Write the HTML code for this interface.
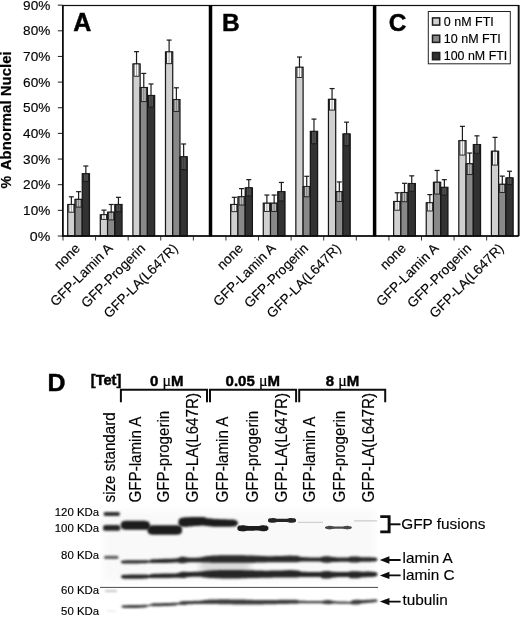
<!DOCTYPE html>
<html><head><meta charset="utf-8"><title>Figure</title>
<style>html,body{margin:0;padding:0;background:#fff}svg{display:block}text{font-family:"Liberation Sans",sans-serif;fill:#000;stroke:#000;stroke-width:0.15px}.b{font-weight:bold;stroke-width:0.45px}</style></head><body>
<svg width="520" height="629" viewBox="0 0 520 629">
<defs>
<filter id="b1" x="-10%" y="-100%" width="120%" height="300%"><feGaussianBlur stdDeviation="0.9"/></filter>
<filter id="b2" x="-10%" y="-100%" width="120%" height="300%"><feGaussianBlur stdDeviation="0.6"/></filter>
<filter id="b3" x="-10%" y="-20%" width="120%" height="140%"><feGaussianBlur stdDeviation="3"/></filter>
<filter id="soft"><feGaussianBlur stdDeviation="0.35"/></filter>
</defs>
<rect width="520" height="629" fill="#fff"/>
<g filter="url(#soft)">
<line x1="57.8" y1="236.00" x2="62.5" y2="236.00" stroke="#222" stroke-width="1"/>
<text x="50.3" y="240.60" font-size="12.9" text-anchor="end" textLength="20.5" lengthAdjust="spacingAndGlyphs">0%</text>
<line x1="57.8" y1="210.35" x2="62.5" y2="210.35" stroke="#222" stroke-width="1"/>
<text x="50.3" y="214.95" font-size="12.9" text-anchor="end" textLength="27.2" lengthAdjust="spacingAndGlyphs">10%</text>
<line x1="57.8" y1="184.70" x2="62.5" y2="184.70" stroke="#222" stroke-width="1"/>
<text x="50.3" y="189.30" font-size="12.9" text-anchor="end" textLength="27.2" lengthAdjust="spacingAndGlyphs">20%</text>
<line x1="57.8" y1="159.05" x2="62.5" y2="159.05" stroke="#222" stroke-width="1"/>
<text x="50.3" y="163.65" font-size="12.9" text-anchor="end" textLength="27.2" lengthAdjust="spacingAndGlyphs">30%</text>
<line x1="57.8" y1="133.40" x2="62.5" y2="133.40" stroke="#222" stroke-width="1"/>
<text x="50.3" y="138.00" font-size="12.9" text-anchor="end" textLength="27.2" lengthAdjust="spacingAndGlyphs">40%</text>
<line x1="57.8" y1="107.75" x2="62.5" y2="107.75" stroke="#222" stroke-width="1"/>
<text x="50.3" y="112.35" font-size="12.9" text-anchor="end" textLength="27.2" lengthAdjust="spacingAndGlyphs">50%</text>
<line x1="57.8" y1="82.10" x2="62.5" y2="82.10" stroke="#222" stroke-width="1"/>
<text x="50.3" y="86.70" font-size="12.9" text-anchor="end" textLength="27.2" lengthAdjust="spacingAndGlyphs">60%</text>
<line x1="57.8" y1="56.45" x2="62.5" y2="56.45" stroke="#222" stroke-width="1"/>
<text x="50.3" y="61.05" font-size="12.9" text-anchor="end" textLength="27.2" lengthAdjust="spacingAndGlyphs">70%</text>
<line x1="57.8" y1="30.80" x2="62.5" y2="30.80" stroke="#222" stroke-width="1"/>
<text x="50.3" y="35.40" font-size="12.9" text-anchor="end" textLength="27.2" lengthAdjust="spacingAndGlyphs">80%</text>
<line x1="57.8" y1="5.15" x2="62.5" y2="5.15" stroke="#222" stroke-width="1"/>
<text x="50.3" y="9.75" font-size="12.9" text-anchor="end" textLength="27.2" lengthAdjust="spacingAndGlyphs">90%</text>
<line x1="63.00" y1="236.0" x2="63.00" y2="240.5" stroke="#333" stroke-width="1"/>
<line x1="95.59" y1="236.0" x2="95.59" y2="240.5" stroke="#333" stroke-width="1"/>
<line x1="128.18" y1="236.0" x2="128.18" y2="240.5" stroke="#333" stroke-width="1"/>
<line x1="160.77" y1="236.0" x2="160.77" y2="240.5" stroke="#333" stroke-width="1"/>
<line x1="193.36" y1="236.0" x2="193.36" y2="240.5" stroke="#333" stroke-width="1"/>
<line x1="225.95" y1="236.0" x2="225.95" y2="240.5" stroke="#333" stroke-width="1"/>
<line x1="258.54" y1="236.0" x2="258.54" y2="240.5" stroke="#333" stroke-width="1"/>
<line x1="291.13" y1="236.0" x2="291.13" y2="240.5" stroke="#333" stroke-width="1"/>
<line x1="323.72" y1="236.0" x2="323.72" y2="240.5" stroke="#333" stroke-width="1"/>
<line x1="356.31" y1="236.0" x2="356.31" y2="240.5" stroke="#333" stroke-width="1"/>
<line x1="388.90" y1="236.0" x2="388.90" y2="240.5" stroke="#333" stroke-width="1"/>
<line x1="421.49" y1="236.0" x2="421.49" y2="240.5" stroke="#333" stroke-width="1"/>
<line x1="454.08" y1="236.0" x2="454.08" y2="240.5" stroke="#333" stroke-width="1"/>
<line x1="486.67" y1="236.0" x2="486.67" y2="240.5" stroke="#333" stroke-width="1"/>
<rect x="67.72" y="204.50" width="7.25" height="31.50" fill="#d0d0d0" stroke="#141414" stroke-width="1.2"/>
<rect x="68.82" y="204.50" width="5.05" height="7.70" fill="#f6f6f6" stroke="#1a1a1a" stroke-width="0.9"/>
<line x1="71.34" y1="204.50" x2="71.34" y2="212.20" stroke="#1a1a1a" stroke-width="0.8" opacity="0.45"/>
<line x1="71.34" y1="204.50" x2="71.34" y2="196.81" stroke="#1a1a1a" stroke-width="1.2"/>
<line x1="68.84" y1="196.81" x2="73.84" y2="196.81" stroke="#1a1a1a" stroke-width="1.2"/>
<rect x="74.97" y="199.37" width="7.25" height="36.63" fill="#888888" stroke="#141414" stroke-width="1.2"/>
<rect x="76.07" y="199.37" width="5.05" height="7.70" fill="#b8b8b8" stroke="#1a1a1a" stroke-width="0.9"/>
<line x1="78.59" y1="199.37" x2="78.59" y2="207.07" stroke="#1a1a1a" stroke-width="0.8" opacity="0.45"/>
<line x1="78.59" y1="199.37" x2="78.59" y2="191.68" stroke="#1a1a1a" stroke-width="1.2"/>
<line x1="76.09" y1="191.68" x2="81.09" y2="191.68" stroke="#1a1a1a" stroke-width="1.2"/>
<rect x="82.22" y="173.72" width="7.25" height="62.28" fill="#303030" stroke="#141414" stroke-width="1.2"/>
<rect x="83.32" y="173.72" width="5.05" height="7.70" fill="#505050" stroke="#1a1a1a" stroke-width="0.9"/>
<line x1="85.84" y1="173.72" x2="85.84" y2="181.42" stroke="#1a1a1a" stroke-width="0.8" opacity="0.45"/>
<line x1="85.84" y1="173.72" x2="85.84" y2="166.03" stroke="#1a1a1a" stroke-width="1.2"/>
<line x1="83.34" y1="166.03" x2="88.34" y2="166.03" stroke="#1a1a1a" stroke-width="1.2"/>
<text transform="translate(80.89,249.20) rotate(-45)" font-size="13.6" text-anchor="end">none</text>
<rect x="100.31" y="214.76" width="7.25" height="21.24" fill="#d0d0d0" stroke="#141414" stroke-width="1.2"/>
<rect x="101.41" y="214.76" width="5.05" height="4.62" fill="#f6f6f6" stroke="#1a1a1a" stroke-width="0.9"/>
<line x1="103.94" y1="214.76" x2="103.94" y2="219.38" stroke="#1a1a1a" stroke-width="0.8" opacity="0.45"/>
<line x1="103.94" y1="214.76" x2="103.94" y2="210.14" stroke="#1a1a1a" stroke-width="1.2"/>
<line x1="101.44" y1="210.14" x2="106.44" y2="210.14" stroke="#1a1a1a" stroke-width="1.2"/>
<rect x="107.56" y="212.20" width="7.25" height="23.80" fill="#888888" stroke="#141414" stroke-width="1.2"/>
<rect x="108.66" y="212.20" width="5.05" height="7.70" fill="#b8b8b8" stroke="#1a1a1a" stroke-width="0.9"/>
<line x1="111.19" y1="212.20" x2="111.19" y2="219.89" stroke="#1a1a1a" stroke-width="0.8" opacity="0.45"/>
<line x1="111.19" y1="212.20" x2="111.19" y2="204.50" stroke="#1a1a1a" stroke-width="1.2"/>
<line x1="108.69" y1="204.50" x2="113.69" y2="204.50" stroke="#1a1a1a" stroke-width="1.2"/>
<rect x="114.81" y="204.50" width="7.25" height="31.50" fill="#303030" stroke="#141414" stroke-width="1.2"/>
<rect x="115.91" y="204.50" width="5.05" height="7.18" fill="#505050" stroke="#1a1a1a" stroke-width="0.9"/>
<line x1="118.44" y1="204.50" x2="118.44" y2="211.68" stroke="#1a1a1a" stroke-width="0.8" opacity="0.45"/>
<line x1="118.44" y1="204.50" x2="118.44" y2="197.32" stroke="#1a1a1a" stroke-width="1.2"/>
<line x1="115.94" y1="197.32" x2="120.94" y2="197.32" stroke="#1a1a1a" stroke-width="1.2"/>
<text transform="translate(113.48,249.20) rotate(-45)" font-size="13.6" text-anchor="end">GFP-Lamin A</text>
<rect x="132.90" y="63.94" width="7.25" height="172.06" fill="#d0d0d0" stroke="#141414" stroke-width="1.2"/>
<rect x="134.00" y="63.94" width="5.05" height="12.31" fill="#f6f6f6" stroke="#1a1a1a" stroke-width="0.9"/>
<line x1="136.53" y1="63.94" x2="136.53" y2="76.25" stroke="#1a1a1a" stroke-width="0.8" opacity="0.45"/>
<line x1="136.53" y1="63.94" x2="136.53" y2="51.63" stroke="#1a1a1a" stroke-width="1.2"/>
<line x1="134.03" y1="51.63" x2="139.03" y2="51.63" stroke="#1a1a1a" stroke-width="1.2"/>
<rect x="140.15" y="87.54" width="7.25" height="148.46" fill="#888888" stroke="#141414" stroke-width="1.2"/>
<rect x="141.25" y="87.54" width="5.05" height="14.11" fill="#b8b8b8" stroke="#1a1a1a" stroke-width="0.9"/>
<line x1="143.78" y1="87.54" x2="143.78" y2="101.65" stroke="#1a1a1a" stroke-width="0.8" opacity="0.45"/>
<line x1="143.78" y1="87.54" x2="143.78" y2="73.43" stroke="#1a1a1a" stroke-width="1.2"/>
<line x1="141.28" y1="73.43" x2="146.28" y2="73.43" stroke="#1a1a1a" stroke-width="1.2"/>
<rect x="147.40" y="95.49" width="7.25" height="140.51" fill="#303030" stroke="#141414" stroke-width="1.2"/>
<rect x="148.50" y="95.49" width="5.05" height="11.54" fill="#505050" stroke="#1a1a1a" stroke-width="0.9"/>
<line x1="151.03" y1="95.49" x2="151.03" y2="107.03" stroke="#1a1a1a" stroke-width="0.8" opacity="0.45"/>
<line x1="151.03" y1="95.49" x2="151.03" y2="83.95" stroke="#1a1a1a" stroke-width="1.2"/>
<line x1="148.53" y1="83.95" x2="153.53" y2="83.95" stroke="#1a1a1a" stroke-width="1.2"/>
<text transform="translate(146.08,249.20) rotate(-45)" font-size="13.6" text-anchor="end">GFP-Progerin</text>
<rect x="165.49" y="51.88" width="7.25" height="184.12" fill="#d0d0d0" stroke="#141414" stroke-width="1.2"/>
<rect x="166.59" y="51.88" width="5.05" height="11.80" fill="#f6f6f6" stroke="#1a1a1a" stroke-width="0.9"/>
<line x1="169.12" y1="51.88" x2="169.12" y2="63.68" stroke="#1a1a1a" stroke-width="0.8" opacity="0.45"/>
<line x1="169.12" y1="51.88" x2="169.12" y2="40.09" stroke="#1a1a1a" stroke-width="1.2"/>
<line x1="166.62" y1="40.09" x2="171.62" y2="40.09" stroke="#1a1a1a" stroke-width="1.2"/>
<rect x="172.74" y="99.59" width="7.25" height="136.41" fill="#888888" stroke="#141414" stroke-width="1.2"/>
<rect x="173.84" y="99.59" width="5.05" height="11.80" fill="#b8b8b8" stroke="#1a1a1a" stroke-width="0.9"/>
<line x1="176.37" y1="99.59" x2="176.37" y2="111.39" stroke="#1a1a1a" stroke-width="0.8" opacity="0.45"/>
<line x1="176.37" y1="99.59" x2="176.37" y2="87.79" stroke="#1a1a1a" stroke-width="1.2"/>
<line x1="173.87" y1="87.79" x2="178.87" y2="87.79" stroke="#1a1a1a" stroke-width="1.2"/>
<rect x="179.99" y="156.79" width="7.25" height="79.21" fill="#303030" stroke="#141414" stroke-width="1.2"/>
<rect x="181.09" y="156.79" width="5.05" height="12.82" fill="#505050" stroke="#1a1a1a" stroke-width="0.9"/>
<line x1="183.62" y1="156.79" x2="183.62" y2="169.62" stroke="#1a1a1a" stroke-width="0.8" opacity="0.45"/>
<line x1="183.62" y1="156.79" x2="183.62" y2="143.97" stroke="#1a1a1a" stroke-width="1.2"/>
<line x1="181.12" y1="143.97" x2="186.12" y2="143.97" stroke="#1a1a1a" stroke-width="1.2"/>
<text transform="translate(178.66,249.20) rotate(-45)" font-size="13.6" text-anchor="end">GFP-LA(L647R)</text>
<rect x="230.67" y="204.50" width="7.25" height="31.50" fill="#d0d0d0" stroke="#141414" stroke-width="1.2"/>
<rect x="231.77" y="204.50" width="5.05" height="7.18" fill="#f6f6f6" stroke="#1a1a1a" stroke-width="0.9"/>
<line x1="234.30" y1="204.50" x2="234.30" y2="211.68" stroke="#1a1a1a" stroke-width="0.8" opacity="0.45"/>
<line x1="234.30" y1="204.50" x2="234.30" y2="197.32" stroke="#1a1a1a" stroke-width="1.2"/>
<line x1="231.80" y1="197.32" x2="236.80" y2="197.32" stroke="#1a1a1a" stroke-width="1.2"/>
<rect x="237.92" y="196.81" width="7.25" height="39.19" fill="#888888" stroke="#141414" stroke-width="1.2"/>
<rect x="239.02" y="196.81" width="5.05" height="8.21" fill="#b8b8b8" stroke="#1a1a1a" stroke-width="0.9"/>
<line x1="241.55" y1="196.81" x2="241.55" y2="205.01" stroke="#1a1a1a" stroke-width="0.8" opacity="0.45"/>
<line x1="241.55" y1="196.81" x2="241.55" y2="188.60" stroke="#1a1a1a" stroke-width="1.2"/>
<line x1="239.05" y1="188.60" x2="244.05" y2="188.60" stroke="#1a1a1a" stroke-width="1.2"/>
<rect x="245.17" y="187.83" width="7.25" height="48.17" fill="#303030" stroke="#141414" stroke-width="1.2"/>
<rect x="246.27" y="187.83" width="5.05" height="8.21" fill="#505050" stroke="#1a1a1a" stroke-width="0.9"/>
<line x1="248.80" y1="187.83" x2="248.80" y2="196.04" stroke="#1a1a1a" stroke-width="0.8" opacity="0.45"/>
<line x1="248.80" y1="187.83" x2="248.80" y2="179.62" stroke="#1a1a1a" stroke-width="1.2"/>
<line x1="246.30" y1="179.62" x2="251.30" y2="179.62" stroke="#1a1a1a" stroke-width="1.2"/>
<text transform="translate(243.84,249.20) rotate(-45)" font-size="13.6" text-anchor="end">none</text>
<rect x="263.26" y="203.22" width="7.25" height="32.78" fill="#d0d0d0" stroke="#141414" stroke-width="1.2"/>
<rect x="264.36" y="203.22" width="5.05" height="8.21" fill="#f6f6f6" stroke="#1a1a1a" stroke-width="0.9"/>
<line x1="266.89" y1="203.22" x2="266.89" y2="211.43" stroke="#1a1a1a" stroke-width="0.8" opacity="0.45"/>
<line x1="266.89" y1="203.22" x2="266.89" y2="195.01" stroke="#1a1a1a" stroke-width="1.2"/>
<line x1="264.39" y1="195.01" x2="269.39" y2="195.01" stroke="#1a1a1a" stroke-width="1.2"/>
<rect x="270.51" y="203.22" width="7.25" height="32.78" fill="#888888" stroke="#141414" stroke-width="1.2"/>
<rect x="271.61" y="203.22" width="5.05" height="8.21" fill="#b8b8b8" stroke="#1a1a1a" stroke-width="0.9"/>
<line x1="274.14" y1="203.22" x2="274.14" y2="211.43" stroke="#1a1a1a" stroke-width="0.8" opacity="0.45"/>
<line x1="274.14" y1="203.22" x2="274.14" y2="195.01" stroke="#1a1a1a" stroke-width="1.2"/>
<line x1="271.64" y1="195.01" x2="276.64" y2="195.01" stroke="#1a1a1a" stroke-width="1.2"/>
<rect x="277.76" y="191.68" width="7.25" height="44.32" fill="#303030" stroke="#141414" stroke-width="1.2"/>
<rect x="278.86" y="191.68" width="5.05" height="9.23" fill="#505050" stroke="#1a1a1a" stroke-width="0.9"/>
<line x1="281.39" y1="191.68" x2="281.39" y2="200.91" stroke="#1a1a1a" stroke-width="0.8" opacity="0.45"/>
<line x1="281.39" y1="191.68" x2="281.39" y2="182.44" stroke="#1a1a1a" stroke-width="1.2"/>
<line x1="278.89" y1="182.44" x2="283.89" y2="182.44" stroke="#1a1a1a" stroke-width="1.2"/>
<text transform="translate(276.44,249.20) rotate(-45)" font-size="13.6" text-anchor="end">GFP-Lamin A</text>
<rect x="295.85" y="67.27" width="7.25" height="168.73" fill="#d0d0d0" stroke="#141414" stroke-width="1.2"/>
<rect x="296.95" y="67.27" width="5.05" height="10.26" fill="#f6f6f6" stroke="#1a1a1a" stroke-width="0.9"/>
<line x1="299.48" y1="67.27" x2="299.48" y2="77.53" stroke="#1a1a1a" stroke-width="0.8" opacity="0.45"/>
<line x1="299.48" y1="67.27" x2="299.48" y2="57.01" stroke="#1a1a1a" stroke-width="1.2"/>
<line x1="296.98" y1="57.01" x2="301.98" y2="57.01" stroke="#1a1a1a" stroke-width="1.2"/>
<rect x="303.10" y="186.55" width="7.25" height="49.45" fill="#888888" stroke="#141414" stroke-width="1.2"/>
<rect x="304.20" y="186.55" width="5.05" height="10.26" fill="#b8b8b8" stroke="#1a1a1a" stroke-width="0.9"/>
<line x1="306.73" y1="186.55" x2="306.73" y2="196.81" stroke="#1a1a1a" stroke-width="0.8" opacity="0.45"/>
<line x1="306.73" y1="186.55" x2="306.73" y2="176.29" stroke="#1a1a1a" stroke-width="1.2"/>
<line x1="304.23" y1="176.29" x2="309.23" y2="176.29" stroke="#1a1a1a" stroke-width="1.2"/>
<rect x="310.35" y="131.40" width="7.25" height="104.60" fill="#303030" stroke="#141414" stroke-width="1.2"/>
<rect x="311.45" y="131.40" width="5.05" height="12.31" fill="#505050" stroke="#1a1a1a" stroke-width="0.9"/>
<line x1="313.98" y1="131.40" x2="313.98" y2="143.71" stroke="#1a1a1a" stroke-width="0.8" opacity="0.45"/>
<line x1="313.98" y1="131.40" x2="313.98" y2="119.09" stroke="#1a1a1a" stroke-width="1.2"/>
<line x1="311.48" y1="119.09" x2="316.48" y2="119.09" stroke="#1a1a1a" stroke-width="1.2"/>
<text transform="translate(309.03,249.20) rotate(-45)" font-size="13.6" text-anchor="end">GFP-Progerin</text>
<rect x="328.44" y="99.34" width="7.25" height="136.66" fill="#d0d0d0" stroke="#141414" stroke-width="1.2"/>
<rect x="329.54" y="99.34" width="5.05" height="10.77" fill="#f6f6f6" stroke="#1a1a1a" stroke-width="0.9"/>
<line x1="332.07" y1="99.34" x2="332.07" y2="110.11" stroke="#1a1a1a" stroke-width="0.8" opacity="0.45"/>
<line x1="332.07" y1="99.34" x2="332.07" y2="88.56" stroke="#1a1a1a" stroke-width="1.2"/>
<line x1="329.57" y1="88.56" x2="334.57" y2="88.56" stroke="#1a1a1a" stroke-width="1.2"/>
<rect x="335.69" y="191.68" width="7.25" height="44.32" fill="#888888" stroke="#141414" stroke-width="1.2"/>
<rect x="336.79" y="191.68" width="5.05" height="9.75" fill="#b8b8b8" stroke="#1a1a1a" stroke-width="0.9"/>
<line x1="339.32" y1="191.68" x2="339.32" y2="201.42" stroke="#1a1a1a" stroke-width="0.8" opacity="0.45"/>
<line x1="339.32" y1="191.68" x2="339.32" y2="181.93" stroke="#1a1a1a" stroke-width="1.2"/>
<line x1="336.82" y1="181.93" x2="341.82" y2="181.93" stroke="#1a1a1a" stroke-width="1.2"/>
<rect x="342.94" y="133.96" width="7.25" height="102.04" fill="#303030" stroke="#141414" stroke-width="1.2"/>
<rect x="344.04" y="133.96" width="5.05" height="11.80" fill="#505050" stroke="#1a1a1a" stroke-width="0.9"/>
<line x1="346.57" y1="133.96" x2="346.57" y2="145.76" stroke="#1a1a1a" stroke-width="0.8" opacity="0.45"/>
<line x1="346.57" y1="133.96" x2="346.57" y2="122.17" stroke="#1a1a1a" stroke-width="1.2"/>
<line x1="344.07" y1="122.17" x2="349.07" y2="122.17" stroke="#1a1a1a" stroke-width="1.2"/>
<text transform="translate(341.62,249.20) rotate(-45)" font-size="13.6" text-anchor="end">GFP-LA(L647R)</text>
<rect x="393.62" y="201.50" width="7.25" height="34.50" fill="#d0d0d0" stroke="#141414" stroke-width="1.2"/>
<rect x="394.72" y="201.50" width="5.05" height="8.72" fill="#f6f6f6" stroke="#1a1a1a" stroke-width="0.9"/>
<line x1="397.25" y1="201.50" x2="397.25" y2="210.22" stroke="#1a1a1a" stroke-width="0.8" opacity="0.45"/>
<line x1="397.25" y1="201.50" x2="397.25" y2="192.78" stroke="#1a1a1a" stroke-width="1.2"/>
<line x1="394.75" y1="192.78" x2="399.75" y2="192.78" stroke="#1a1a1a" stroke-width="1.2"/>
<rect x="400.87" y="192.52" width="7.25" height="43.48" fill="#888888" stroke="#141414" stroke-width="1.2"/>
<rect x="401.97" y="192.52" width="5.05" height="9.23" fill="#b8b8b8" stroke="#1a1a1a" stroke-width="0.9"/>
<line x1="404.50" y1="192.52" x2="404.50" y2="201.76" stroke="#1a1a1a" stroke-width="0.8" opacity="0.45"/>
<line x1="404.50" y1="192.52" x2="404.50" y2="183.29" stroke="#1a1a1a" stroke-width="1.2"/>
<line x1="402.00" y1="183.29" x2="407.00" y2="183.29" stroke="#1a1a1a" stroke-width="1.2"/>
<rect x="408.12" y="183.55" width="7.25" height="52.45" fill="#303030" stroke="#141414" stroke-width="1.2"/>
<rect x="409.22" y="183.55" width="5.05" height="7.70" fill="#505050" stroke="#1a1a1a" stroke-width="0.9"/>
<line x1="411.75" y1="183.55" x2="411.75" y2="191.24" stroke="#1a1a1a" stroke-width="0.8" opacity="0.45"/>
<line x1="411.75" y1="183.55" x2="411.75" y2="175.85" stroke="#1a1a1a" stroke-width="1.2"/>
<line x1="409.25" y1="175.85" x2="414.25" y2="175.85" stroke="#1a1a1a" stroke-width="1.2"/>
<text transform="translate(406.80,249.20) rotate(-45)" font-size="13.6" text-anchor="end">none</text>
<rect x="426.21" y="202.78" width="7.25" height="33.22" fill="#d0d0d0" stroke="#141414" stroke-width="1.2"/>
<rect x="427.31" y="202.78" width="5.05" height="8.21" fill="#f6f6f6" stroke="#1a1a1a" stroke-width="0.9"/>
<line x1="429.84" y1="202.78" x2="429.84" y2="210.99" stroke="#1a1a1a" stroke-width="0.8" opacity="0.45"/>
<line x1="429.84" y1="202.78" x2="429.84" y2="194.58" stroke="#1a1a1a" stroke-width="1.2"/>
<line x1="427.34" y1="194.58" x2="432.34" y2="194.58" stroke="#1a1a1a" stroke-width="1.2"/>
<rect x="433.46" y="182.26" width="7.25" height="53.74" fill="#888888" stroke="#141414" stroke-width="1.2"/>
<rect x="434.56" y="182.26" width="5.05" height="11.80" fill="#b8b8b8" stroke="#1a1a1a" stroke-width="0.9"/>
<line x1="437.09" y1="182.26" x2="437.09" y2="194.06" stroke="#1a1a1a" stroke-width="0.8" opacity="0.45"/>
<line x1="437.09" y1="182.26" x2="437.09" y2="170.46" stroke="#1a1a1a" stroke-width="1.2"/>
<line x1="434.59" y1="170.46" x2="439.59" y2="170.46" stroke="#1a1a1a" stroke-width="1.2"/>
<rect x="440.71" y="187.39" width="7.25" height="48.61" fill="#303030" stroke="#141414" stroke-width="1.2"/>
<rect x="441.81" y="187.39" width="5.05" height="7.70" fill="#505050" stroke="#1a1a1a" stroke-width="0.9"/>
<line x1="444.34" y1="187.39" x2="444.34" y2="195.09" stroke="#1a1a1a" stroke-width="0.8" opacity="0.45"/>
<line x1="444.34" y1="187.39" x2="444.34" y2="179.70" stroke="#1a1a1a" stroke-width="1.2"/>
<line x1="441.84" y1="179.70" x2="446.84" y2="179.70" stroke="#1a1a1a" stroke-width="1.2"/>
<text transform="translate(439.39,249.20) rotate(-45)" font-size="13.6" text-anchor="end">GFP-Lamin A</text>
<rect x="458.80" y="140.71" width="7.25" height="95.29" fill="#d0d0d0" stroke="#141414" stroke-width="1.2"/>
<rect x="459.90" y="140.71" width="5.05" height="14.36" fill="#f6f6f6" stroke="#1a1a1a" stroke-width="0.9"/>
<line x1="462.43" y1="140.71" x2="462.43" y2="155.07" stroke="#1a1a1a" stroke-width="0.8" opacity="0.45"/>
<line x1="462.43" y1="140.71" x2="462.43" y2="126.35" stroke="#1a1a1a" stroke-width="1.2"/>
<line x1="459.93" y1="126.35" x2="464.93" y2="126.35" stroke="#1a1a1a" stroke-width="1.2"/>
<rect x="466.05" y="163.80" width="7.25" height="72.20" fill="#888888" stroke="#141414" stroke-width="1.2"/>
<rect x="467.15" y="163.80" width="5.05" height="10.77" fill="#b8b8b8" stroke="#1a1a1a" stroke-width="0.9"/>
<line x1="469.68" y1="163.80" x2="469.68" y2="174.57" stroke="#1a1a1a" stroke-width="0.8" opacity="0.45"/>
<line x1="469.68" y1="163.80" x2="469.68" y2="153.02" stroke="#1a1a1a" stroke-width="1.2"/>
<line x1="467.18" y1="153.02" x2="472.18" y2="153.02" stroke="#1a1a1a" stroke-width="1.2"/>
<rect x="473.30" y="144.56" width="7.25" height="91.44" fill="#303030" stroke="#141414" stroke-width="1.2"/>
<rect x="474.40" y="144.56" width="5.05" height="8.72" fill="#505050" stroke="#1a1a1a" stroke-width="0.9"/>
<line x1="476.93" y1="144.56" x2="476.93" y2="153.28" stroke="#1a1a1a" stroke-width="0.8" opacity="0.45"/>
<line x1="476.93" y1="144.56" x2="476.93" y2="135.84" stroke="#1a1a1a" stroke-width="1.2"/>
<line x1="474.43" y1="135.84" x2="479.43" y2="135.84" stroke="#1a1a1a" stroke-width="1.2"/>
<text transform="translate(471.98,249.20) rotate(-45)" font-size="13.6" text-anchor="end">GFP-Progerin</text>
<rect x="491.39" y="151.23" width="7.25" height="84.77" fill="#d0d0d0" stroke="#141414" stroke-width="1.2"/>
<rect x="492.49" y="151.23" width="5.05" height="13.85" fill="#f6f6f6" stroke="#1a1a1a" stroke-width="0.9"/>
<line x1="495.02" y1="151.23" x2="495.02" y2="165.08" stroke="#1a1a1a" stroke-width="0.8" opacity="0.45"/>
<line x1="495.02" y1="151.23" x2="495.02" y2="137.38" stroke="#1a1a1a" stroke-width="1.2"/>
<line x1="492.52" y1="137.38" x2="497.52" y2="137.38" stroke="#1a1a1a" stroke-width="1.2"/>
<rect x="498.64" y="184.32" width="7.25" height="51.68" fill="#888888" stroke="#141414" stroke-width="1.2"/>
<rect x="499.74" y="184.32" width="5.05" height="8.21" fill="#b8b8b8" stroke="#1a1a1a" stroke-width="0.9"/>
<line x1="502.27" y1="184.32" x2="502.27" y2="192.52" stroke="#1a1a1a" stroke-width="0.8" opacity="0.45"/>
<line x1="502.27" y1="184.32" x2="502.27" y2="176.11" stroke="#1a1a1a" stroke-width="1.2"/>
<line x1="499.77" y1="176.11" x2="504.77" y2="176.11" stroke="#1a1a1a" stroke-width="1.2"/>
<rect x="505.89" y="177.90" width="7.25" height="58.10" fill="#303030" stroke="#141414" stroke-width="1.2"/>
<rect x="506.99" y="177.90" width="5.05" height="6.67" fill="#505050" stroke="#1a1a1a" stroke-width="0.9"/>
<line x1="509.52" y1="177.90" x2="509.52" y2="184.57" stroke="#1a1a1a" stroke-width="0.8" opacity="0.45"/>
<line x1="509.52" y1="177.90" x2="509.52" y2="171.23" stroke="#1a1a1a" stroke-width="1.2"/>
<line x1="507.02" y1="171.23" x2="512.02" y2="171.23" stroke="#1a1a1a" stroke-width="1.2"/>
<text transform="translate(504.57,249.20) rotate(-45)" font-size="13.6" text-anchor="end">GFP-LA(L647R)</text>
<rect x="62.6" y="5.5" width="455.9" height="230.5" fill="none" stroke="#111" stroke-width="1.2"/>
<line x1="518.7" y1="5" x2="518.7" y2="236.0" stroke="#111" stroke-width="1.8"/>
<line x1="62.9" y1="5" x2="62.9" y2="236.0" stroke="#111" stroke-width="1.7"/>
<line x1="62" y1="236.0" x2="518.5" y2="236.0" stroke="#111" stroke-width="1.6"/>
<line x1="210.5" y1="5" x2="210.5" y2="236.5" stroke="#000" stroke-width="3.5"/>
<line x1="374.6" y1="5" x2="374.6" y2="236.5" stroke="#000" stroke-width="3.5"/>
<text class="b" x="73.2" y="31.2" font-size="25">A</text>
<text class="b" x="222" y="31" font-size="24.5">B</text>
<text class="b" x="388.8" y="31" font-size="24.5">C</text>
<text class="b" style="stroke-width:0.2px" transform="translate(10.7,188.5) rotate(-90)" font-size="14.2">%</text>
<text class="b" style="stroke-width:0.2px" transform="translate(10.7,170.2) rotate(-90)" font-size="14.2" textLength="118.8" lengthAdjust="spacingAndGlyphs">Abnormal Nuclei</text>
<rect x="428.3" y="11.5" width="82" height="52.3" fill="#fff" stroke="#222" stroke-width="1"/>
<rect x="432.5" y="17.90" width="7.2" height="7.2" fill="#d0d0d0" stroke="#1c1c1c" stroke-width="1.5"/>
<text x="443.8" y="25.70" font-size="12.1" textLength="50" lengthAdjust="spacingAndGlyphs">0 nM FTI</text>
<rect x="432.5" y="35.20" width="7.2" height="7.2" fill="#888888" stroke="#1c1c1c" stroke-width="1.5"/>
<text x="443.8" y="43.00" font-size="12.1" textLength="57" lengthAdjust="spacingAndGlyphs">10 nM FTI</text>
<rect x="432.5" y="52.50" width="7.2" height="7.2" fill="#303030" stroke="#1c1c1c" stroke-width="1.5"/>
<text x="443.8" y="60.30" font-size="12.1" textLength="63.5" lengthAdjust="spacingAndGlyphs">100 nM FTI</text>
</g>
<g filter="url(#soft)">
<text class="b" x="47.6" y="391" font-size="23.3" textLength="18" lengthAdjust="spacingAndGlyphs">D</text>
<text class="b" x="90.8" y="385" font-size="14.6">[Tet]</text>
<text class="b" x="166.7" y="386" font-size="15" text-anchor="middle">0 <tspan font-family="Liberation Serif, serif" font-weight="normal" font-size="16" stroke-width="0.2">μ</tspan>M</text>
<text class="b" x="252.8" y="386" font-size="15" text-anchor="middle">0.05 <tspan font-family="Liberation Serif, serif" font-weight="normal" font-size="16" stroke-width="0.2">μ</tspan>M</text>
<text class="b" x="342.5" y="386" font-size="15" text-anchor="middle">8 <tspan font-family="Liberation Serif, serif" font-weight="normal" font-size="16" stroke-width="0.2">μ</tspan>M</text>
<path d="M120.9,402.2 V389.8 H207 V402.2" fill="none" stroke="#0a0a0a" stroke-width="2"/>
<path d="M210,402.2 V389.8 H296.1 V402.2" fill="none" stroke="#0a0a0a" stroke-width="2"/>
<path d="M299.2,402.2 V389.8 H385.2 V402.2" fill="none" stroke="#0a0a0a" stroke-width="2"/>
<text transform="translate(114.60000000000001,502.4) rotate(-90) scale(1,1.03)" font-size="15.15">size standard</text>
<text transform="translate(141.0,502.4) rotate(-90) scale(1,1.03)" font-size="15.15">GFP-lamin A</text>
<text transform="translate(169.3,502.4) rotate(-90) scale(1,1.03)" font-size="15.15">GFP-progerin</text>
<text transform="translate(198.0,502.4) rotate(-90) scale(1,1.03)" font-size="15.15">GFP-LA(L647R)</text>
<text transform="translate(228.4,502.4) rotate(-90) scale(1,1.03)" font-size="15.15">GFP-lamin A</text>
<text transform="translate(258.2,502.4) rotate(-90) scale(1,1.03)" font-size="15.15">GFP-progerin</text>
<text transform="translate(286.59999999999997,502.4) rotate(-90) scale(1,1.03)" font-size="15.15">GFP-LA(L647R)</text>
<text transform="translate(315.2,502.4) rotate(-90) scale(1,1.03)" font-size="15.15">GFP-lamin A</text>
<text transform="translate(344.7,502.4) rotate(-90) scale(1,1.03)" font-size="15.15">GFP-progerin</text>
<text transform="translate(373.5,502.4) rotate(-90) scale(1,1.03)" font-size="15.15">GFP-LA(L647R)</text>
<text x="99.1" y="516.2" font-size="11.4" text-anchor="end">120 KDa</text>
<text x="99.1" y="532.1" font-size="11.4" text-anchor="end">100 KDa</text>
<text x="99.1" y="559.3000000000001" font-size="11.4" text-anchor="end">80 KDa</text>
<text x="99.1" y="593.7" font-size="11.4" text-anchor="end">60 KDa</text>
<text x="99.1" y="615.0" font-size="11.4" text-anchor="end">50 KDa</text>
<path d="M380.2,516.6 H389.1 V531.9 H380.2" fill="none" stroke="#0a0a0a" stroke-width="2.9"/>
<line x1="390" y1="524.3" x2="400.5" y2="524.3" stroke="#0a0a0a" stroke-width="1.9"/>
<text x="401.3" y="529.3" font-size="15.35">GFP fusions</text>
<text x="402.5" y="562.5" font-size="15.35">lamin A</text>
<path d="M379.8,560.0 L389.4,556.3 V559.05 H400.6 V560.95 H389.4 V563.7 Z" fill="#0a0a0a"/>
<text x="402.5" y="579.5" font-size="15.35">lamin C</text>
<path d="M379.8,575.4 L389.4,571.6999999999999 V574.4499999999999 H400.6 V576.35 H389.4 V579.1 Z" fill="#0a0a0a"/>
<text x="402.5" y="605" font-size="15.35">tubulin</text>
<path d="M379.8,601.6 L389.4,597.9 V600.65 H400.6 V602.5500000000001 H389.4 V605.3000000000001 Z" fill="#0a0a0a"/>
</g>
<rect x="103" y="510" width="272" height="72" fill="#f9f9f9" filter="url(#b3)"/>
<g filter="url(#b1)">
<rect x="103.5" y="512.1" width="16.5" height="3.8" rx="1.9" fill="#333"/>
<rect x="103" y="525" width="17.5" height="5.8" rx="2.9" fill="#262626"/>
<rect x="104" y="555.8" width="14.5" height="3.1" rx="1.5" fill="#606060"/>
<rect x="105" y="590.3" width="12" height="1.7" rx="0.8" fill="#bcbcbc"/>
<rect x="107" y="610.4" width="9" height="1" rx="0.5" fill="#e2e2e2"/>
</g>
<polygon filter="url(#b1)" fill="#1e1e1e" points="120.8,523.20 121.7,522.20 122.5,521.20 123.4,521.13 124.2,520.95 125.1,520.77 126.0,520.70 127.0,520.70 128.0,520.70 129.0,520.71 130.0,520.71 131.0,520.72 132.0,520.72 133.0,520.73 134.0,520.74 135.0,520.75 136.0,520.75 137.0,520.76 138.0,520.77 139.0,520.78 140.0,520.78 141.0,520.79 142.0,520.79 143.0,520.80 144.0,520.80 145.0,520.80 145.9,520.90 146.8,521.15 147.6,521.40 148.5,521.50 149.2,522.75 150.0,524.00 150.0,528.00 149.2,528.75 148.5,529.50 147.6,529.54 146.8,529.65 145.9,529.76 145.0,529.80 144.0,529.80 143.0,529.80 142.0,529.79 141.0,529.79 140.0,529.78 139.0,529.78 138.0,529.77 137.0,529.76 136.0,529.75 135.0,529.75 134.0,529.74 133.0,529.73 132.0,529.72 131.0,529.72 130.0,529.71 129.0,529.71 128.0,529.70 127.0,529.70 126.0,529.70 125.1,529.63 124.2,529.45 123.4,529.27 122.5,529.20 121.7,528.20 120.8,527.20"/>
<polygon filter="url(#b1)" fill="#1e1e1e" points="147.5,528.00 148.5,526.90 149.5,525.80 150.4,525.73 151.2,525.55 152.1,525.37 153.0,525.30 154.0,525.30 155.0,525.30 156.0,525.30 157.0,525.30 158.0,525.30 159.0,525.30 160.0,525.30 161.0,525.30 162.0,525.30 163.0,525.30 164.0,525.30 165.0,525.30 166.0,525.30 167.0,525.30 168.0,525.30 169.0,525.30 170.0,525.30 171.0,525.30 172.0,525.30 173.0,525.30 174.0,525.30 175.0,525.30 176.0,525.30 177.0,525.30 177.9,525.39 178.8,525.60 179.6,525.81 180.5,525.90 181.2,526.95 182.0,528.00 182.0,532.00 181.2,533.05 180.5,534.10 179.6,534.19 178.8,534.40 177.9,534.61 177.0,534.70 176.0,534.70 175.0,534.70 174.0,534.70 173.0,534.70 172.0,534.70 171.0,534.70 170.0,534.70 169.0,534.70 168.0,534.70 167.0,534.70 166.0,534.70 165.0,534.70 164.0,534.70 163.0,534.70 162.0,534.70 161.0,534.70 160.0,534.70 159.0,534.70 158.0,534.70 157.0,534.70 156.0,534.70 155.0,534.70 154.0,534.70 153.0,534.70 152.1,534.63 151.2,534.45 150.4,534.27 149.5,534.20 148.5,533.10 147.5,532.00"/>
<polygon filter="url(#b1)" fill="#1e1e1e" points="178.4,520.30 179.4,519.20 180.3,518.10 181.2,518.02 182.2,517.82 183.1,517.58 184.1,517.38 185.0,517.30 186.0,517.29 187.0,517.26 188.0,517.22 189.0,517.16 190.0,517.10 191.0,517.04 192.0,516.98 193.0,516.94 194.0,516.91 195.0,516.90 196.0,516.90 197.0,516.91 198.0,516.93 199.0,516.95 200.0,516.97 201.0,516.99 202.0,517.00 203.0,517.00 204.0,517.12 205.0,517.45 206.0,517.85 207.0,518.18 208.0,518.30 209.0,518.34 210.0,518.45 211.0,518.60 212.0,518.75 213.0,518.86 214.0,518.90 215.0,518.91 216.0,518.94 217.0,518.99 218.0,519.05 219.0,519.11 220.0,519.16 221.0,519.19 222.0,519.20 223.0,519.21 224.0,519.24 225.0,519.29 226.0,519.35 227.0,519.41 228.0,519.46 229.0,519.49 230.0,519.50 231.0,519.53 232.0,519.60 233.0,519.70 234.0,519.77 235.0,519.80 235.9,520.25 236.9,521.15 237.8,521.60 237.8,524.60 236.9,525.05 235.9,525.95 235.0,526.40 234.0,526.43 233.0,526.50 232.0,526.60 231.0,526.67 230.0,526.70 229.0,526.70 228.0,526.71 227.0,526.73 226.0,526.75 225.0,526.77 224.0,526.79 223.0,526.80 222.0,526.80 221.0,526.80 220.0,526.79 219.0,526.77 218.0,526.75 217.0,526.73 216.0,526.71 215.0,526.70 214.0,526.70 213.0,526.66 212.0,526.55 211.0,526.40 210.0,526.25 209.0,526.14 208.0,526.10 207.0,526.05 206.0,525.93 205.0,525.77 204.0,525.65 203.0,525.60 202.0,525.62 201.0,525.67 200.0,525.75 199.0,525.85 198.0,525.95 197.0,526.03 196.0,526.08 195.0,526.10 194.0,526.12 193.0,526.18 192.0,526.26 191.0,526.38 190.0,526.50 189.0,526.62 188.0,526.74 187.0,526.82 186.0,526.88 185.0,526.90 184.1,526.86 183.1,526.76 182.2,526.64 181.2,526.54 180.3,526.50 179.4,525.40 178.4,524.30"/>
<polygon filter="url(#b2)" fill="#1e1e1e" points="237.4,527.05 238.2,526.32 239.0,525.60 240.0,525.54 241.0,525.40 242.0,525.26 243.0,525.20 244.0,525.27 245.0,525.44 246.0,525.66 247.0,525.83 248.0,525.90 249.0,525.90 250.0,525.91 251.0,525.92 252.0,525.93 253.0,525.95 254.0,525.97 255.0,525.98 256.0,525.99 257.0,526.00 258.0,526.00 259.0,525.93 260.0,525.76 261.0,525.54 262.0,525.37 263.0,525.30 263.9,525.34 264.8,525.45 265.6,525.56 266.5,525.60 267.4,526.32 268.4,527.05 268.4,529.55 267.4,530.27 266.5,531.00 265.6,531.04 264.8,531.15 263.9,531.26 263.0,531.30 262.0,531.23 261.0,531.06 260.0,530.84 259.0,530.67 258.0,530.60 257.0,530.60 256.0,530.61 255.0,530.62 254.0,530.63 253.0,530.65 252.0,530.67 251.0,530.68 250.0,530.69 249.0,530.70 248.0,530.70 247.0,530.77 246.0,530.94 245.0,531.16 244.0,531.33 243.0,531.40 242.0,531.34 241.0,531.20 240.0,531.06 239.0,531.00 238.2,530.27 237.4,529.55"/>
<polygon filter="url(#b2)" fill="#262626" points="268.0,519.40 268.8,518.85 269.5,518.30 270.4,518.26 271.2,518.15 272.1,518.04 273.0,518.00 274.0,518.10 275.0,518.35 276.0,518.60 277.0,518.70 278.0,518.70 279.0,518.70 280.0,518.70 281.0,518.70 282.0,518.70 283.0,518.70 284.0,518.70 285.0,518.70 286.0,518.70 287.0,518.70 288.0,518.60 289.0,518.35 290.0,518.10 291.0,518.00 291.9,518.04 292.8,518.15 293.6,518.26 294.5,518.30 295.2,518.85 296.0,519.40 296.0,521.40 295.2,521.95 294.5,522.50 293.6,522.54 292.8,522.65 291.9,522.76 291.0,522.80 290.0,522.70 289.0,522.45 288.0,522.20 287.0,522.10 286.0,522.10 285.0,522.10 284.0,522.10 283.0,522.10 282.0,522.10 281.0,522.10 280.0,522.10 279.0,522.10 278.0,522.10 277.0,522.10 276.0,522.20 275.0,522.45 274.0,522.70 273.0,522.80 272.1,522.76 271.2,522.65 270.4,522.54 269.5,522.50 268.8,521.95 268.0,521.40"/>
<rect x="298" y="521.8" width="25" height="1" fill="#c6c6c6" filter="url(#b2)"/>
<polygon filter="url(#b2)" fill="#4a4a4a" points="325.0,527.10 325.8,526.65 326.5,526.20 327.4,526.14 328.2,526.00 329.1,525.86 330.0,525.80 331.0,525.89 332.0,526.10 333.0,526.31 334.0,526.40 335.0,526.40 336.0,526.40 337.0,526.40 338.0,526.40 339.0,526.40 340.0,526.40 341.0,526.40 342.0,526.40 343.0,526.40 344.0,526.31 345.0,526.10 346.0,525.89 347.0,525.80 347.9,525.86 348.8,526.00 349.6,526.14 350.5,526.20 351.8,527.10 351.8,528.10 350.5,529.00 349.6,529.06 348.8,529.20 347.9,529.34 347.0,529.40 346.0,529.31 345.0,529.10 344.0,528.89 343.0,528.80 342.0,528.80 341.0,528.80 340.0,528.80 339.0,528.80 338.0,528.80 337.0,528.80 336.0,528.80 335.0,528.80 334.0,528.80 333.0,528.89 332.0,529.10 331.0,529.31 330.0,529.40 329.1,529.34 328.2,529.20 327.4,529.06 326.5,529.00 325.8,528.55 325.0,528.10"/>
<rect x="354" y="520.4" width="23" height="1" fill="#c0c0c0" filter="url(#b2)"/>
<rect x="200" y="559" width="50" height="16" fill="#9a9a9a" opacity="0.32" filter="url(#b3)"/>
<polygon filter="url(#b1)" fill="#2a2a2a" points="121.0,561.15 122.0,560.77 123.0,560.40 124.0,560.40 125.0,560.38 126.0,560.36 127.0,560.34 128.0,560.31 129.0,560.27 130.0,560.24 131.0,560.21 132.0,560.19 133.0,560.17 134.0,560.15 135.0,560.15 136.0,560.15 137.0,560.15 138.0,560.16 139.0,560.16 140.0,560.17 141.0,560.18 142.0,560.19 143.0,560.19 144.0,560.20 145.0,560.20 146.0,560.20 147.1,560.29 148.2,560.46 149.3,560.55 150.4,559.93 151.5,559.30 152.5,559.29 153.4,559.28 154.4,559.25 155.4,559.22 156.3,559.17 157.3,559.13 158.2,559.08 159.2,559.02 160.2,558.98 161.1,558.93 162.1,558.90 163.1,558.87 164.0,558.86 165.0,558.85 166.0,558.84 167.0,558.83 168.0,558.80 169.0,558.76 170.0,558.73 171.0,558.69 172.0,558.65 173.0,558.62 174.0,558.61 175.0,558.60 176.0,558.45 177.0,558.15 178.0,558.00 179.0,557.71 180.0,557.14 181.0,556.85 182.0,556.83 183.0,556.77 184.0,556.75 185.0,556.95 186.0,557.35 187.0,557.55 188.0,557.57 189.0,557.64 190.0,557.71 191.0,557.78 192.0,557.80 193.0,557.79 194.0,557.76 195.0,557.72 196.0,557.68 197.0,557.63 198.0,557.59 199.0,557.56 200.0,557.55 201.0,557.43 202.0,557.12 203.0,556.82 204.0,556.70 205.0,556.60 206.0,556.35 207.0,556.10 208.0,556.00 209.0,555.97 210.0,555.88 211.0,555.75 212.0,555.62 213.0,555.53 214.0,555.50 215.0,555.49 216.0,555.46 217.0,555.42 218.0,555.38 219.0,555.33 220.0,555.29 221.0,555.26 222.0,555.25 223.0,555.25 224.0,555.25 225.0,555.24 226.0,555.23 227.0,555.22 228.0,555.21 229.0,555.20 230.0,555.19 231.0,555.18 232.0,555.17 233.0,555.16 234.0,555.15 235.0,555.15 236.0,555.15 237.0,555.15 238.0,555.17 239.0,555.19 240.0,555.22 241.0,555.25 242.0,555.29 243.0,555.32 244.0,555.36 245.0,555.40 246.0,555.43 247.0,555.46 248.0,555.48 249.0,555.50 250.0,555.50 251.0,555.51 252.0,555.53 253.0,555.56 254.0,555.60 255.0,555.65 256.0,555.70 257.0,555.75 258.0,555.80 259.0,555.84 260.0,555.87 261.0,555.89 262.0,555.90 263.0,555.92 264.0,555.99 265.0,556.08 266.0,556.16 267.0,556.23 268.0,556.25 269.0,556.25 270.0,556.23 271.0,556.21 272.0,556.19 273.0,556.16 274.0,556.12 275.0,556.09 276.0,556.06 277.0,556.04 278.0,556.02 279.0,556.00 280.0,556.00 281.0,555.99 282.0,555.96 283.0,555.92 284.0,555.86 285.0,555.80 286.0,555.74 287.0,555.68 288.0,555.64 289.0,555.61 290.0,555.60 291.0,555.61 292.0,555.65 293.0,555.70 294.0,555.75 295.0,555.80 296.0,555.84 297.0,555.85 298.0,555.97 299.0,556.28 300.0,556.67 301.0,556.98 302.0,557.10 303.0,557.11 304.0,557.14 305.0,557.18 306.0,557.24 307.0,557.30 308.0,557.36 309.0,557.42 310.0,557.46 311.0,557.49 312.0,557.50 313.0,557.50 314.0,557.49 315.0,557.47 316.0,557.45 317.0,557.43 318.0,557.41 319.0,557.40 320.0,557.40 321.0,557.15 322.0,556.65 323.0,556.40 324.0,556.39 325.0,556.35 326.0,556.30 327.0,556.26 328.0,556.25 329.0,556.33 330.0,556.54 331.0,556.81 332.0,557.02 333.0,557.10 334.0,557.12 335.0,557.18 336.0,557.27 337.0,557.38 338.0,557.47 339.0,557.53 340.0,557.55 341.0,557.55 342.0,557.54 343.0,557.52 344.0,557.50 345.0,557.48 346.0,557.46 347.0,557.45 348.0,557.45 349.0,557.24 350.0,556.81 351.0,556.60 352.0,556.60 353.0,556.59 354.0,556.58 355.0,556.56 356.0,556.55 357.0,556.55 358.0,556.61 359.0,556.77 360.0,556.98 361.0,557.14 362.0,557.20 363.0,557.21 364.0,557.22 365.0,557.25 366.0,557.27 367.0,557.30 368.0,557.33 369.0,557.34 370.0,557.35 370.9,557.37 371.8,557.41 372.8,557.48 373.7,557.54 374.6,557.58 375.5,557.60 376.5,558.17 377.5,558.75 377.5,560.25 376.5,560.83 375.5,561.40 374.6,561.42 373.7,561.46 372.8,561.52 371.8,561.59 370.9,561.63 370.0,561.65 369.0,561.66 368.0,561.67 367.0,561.70 366.0,561.73 365.0,561.75 364.0,561.78 363.0,561.79 362.0,561.80 361.0,561.86 360.0,562.02 359.0,562.23 358.0,562.39 357.0,562.45 356.0,562.45 355.0,562.44 354.0,562.42 353.0,562.41 352.0,562.40 351.0,562.40 350.0,562.24 349.0,561.91 348.0,561.75 347.0,561.75 346.0,561.76 345.0,561.78 344.0,561.80 343.0,561.82 342.0,561.84 341.0,561.85 340.0,561.85 339.0,561.86 338.0,561.90 337.0,561.95 336.0,562.00 335.0,562.05 334.0,562.09 333.0,562.10 332.0,562.16 331.0,562.32 330.0,562.53 329.0,562.69 328.0,562.75 327.0,562.74 326.0,562.70 325.0,562.65 324.0,562.61 323.0,562.60 322.0,562.35 321.0,561.85 320.0,561.60 319.0,561.60 318.0,561.59 317.0,561.57 316.0,561.55 315.0,561.53 314.0,561.51 313.0,561.50 312.0,561.50 311.0,561.50 310.0,561.50 309.0,561.50 308.0,561.50 307.0,561.50 306.0,561.50 305.0,561.50 304.0,561.50 303.0,561.50 302.0,561.50 301.0,561.56 300.0,561.72 299.0,561.93 298.0,562.09 297.0,562.15 296.0,562.15 295.0,562.16 294.0,562.17 293.0,562.18 292.0,562.19 291.0,562.20 290.0,562.20 289.0,562.20 288.0,562.20 287.0,562.20 286.0,562.20 285.0,562.20 284.0,562.20 283.0,562.20 282.0,562.20 281.0,562.20 280.0,562.20 279.0,562.20 278.0,562.21 277.0,562.22 276.0,562.24 275.0,562.26 274.0,562.28 273.0,562.29 272.0,562.31 271.0,562.33 270.0,562.34 269.0,562.35 268.0,562.35 267.0,562.36 266.0,562.39 265.0,562.42 264.0,562.46 263.0,562.49 262.0,562.50 261.0,562.50 260.0,562.51 259.0,562.53 258.0,562.55 257.0,562.57 256.0,562.60 255.0,562.63 254.0,562.65 253.0,562.67 252.0,562.69 251.0,562.70 250.0,562.70 249.0,562.70 248.0,562.71 247.0,562.72 246.0,562.73 245.0,562.74 244.0,562.76 243.0,562.77 242.0,562.79 241.0,562.81 240.0,562.82 239.0,562.83 238.0,562.84 237.0,562.85 236.0,562.85 235.0,562.85 234.0,562.85 233.0,562.84 232.0,562.83 231.0,562.82 230.0,562.81 229.0,562.80 228.0,562.79 227.0,562.78 226.0,562.77 225.0,562.76 224.0,562.75 223.0,562.75 222.0,562.75 221.0,562.75 220.0,562.74 219.0,562.73 218.0,562.73 217.0,562.72 216.0,562.71 215.0,562.70 214.0,562.70 213.0,562.69 212.0,562.67 211.0,562.65 210.0,562.62 209.0,562.61 208.0,562.60 207.0,562.59 206.0,562.55 205.0,562.51 204.0,562.50 203.0,562.46 202.0,562.38 201.0,562.29 200.0,562.25 199.0,562.25 198.0,562.24 197.0,562.23 196.0,562.23 195.0,562.22 194.0,562.21 193.0,562.20 192.0,562.20 191.0,562.22 190.0,562.29 189.0,562.36 188.0,562.43 187.0,562.45 186.0,562.65 185.0,563.05 184.0,563.25 183.0,563.27 182.0,563.33 181.0,563.35 180.0,563.16 179.0,562.79 178.0,562.60 177.0,562.60 176.0,562.60 175.0,562.60 174.0,562.61 173.0,562.63 172.0,562.67 171.0,562.72 170.0,562.77 169.0,562.83 168.0,562.88 167.0,562.92 166.0,562.94 165.0,562.95 164.0,562.95 163.1,562.95 162.1,562.94 161.1,562.94 160.2,562.94 159.2,562.93 158.2,562.92 157.3,562.92 156.3,562.91 155.4,562.91 154.4,562.91 153.4,562.90 152.5,562.90 151.5,562.90 150.4,562.68 149.3,562.45 148.2,562.64 147.1,563.01 146.0,563.20 145.0,563.21 144.0,563.22 143.0,563.24 142.0,563.27 141.0,563.31 140.0,563.34 139.0,563.38 138.0,563.41 137.0,563.43 136.0,563.44 135.0,563.45 134.0,563.45 133.0,563.45 132.0,563.44 131.0,563.44 130.0,563.43 129.0,563.43 128.0,563.42 127.0,563.41 126.0,563.41 125.0,563.40 124.0,563.40 123.0,563.40 122.0,563.02 121.0,562.65"/>
<polygon filter="url(#b1)" fill="#282828" points="121.0,575.95 122.2,575.33 123.5,574.70 124.5,574.70 125.4,574.69 126.4,574.68 127.3,574.66 128.3,574.64 129.2,574.62 130.2,574.61 131.2,574.59 132.1,574.57 133.1,574.56 134.0,574.55 135.0,574.55 136.0,574.55 137.0,574.55 138.0,574.56 139.0,574.56 140.0,574.57 141.0,574.58 142.0,574.59 143.0,574.59 144.0,574.60 145.0,574.60 146.0,574.60 147.1,574.67 148.2,574.83 149.3,574.90 150.4,574.40 151.5,573.90 152.5,573.90 153.4,573.88 154.4,573.86 155.4,573.83 156.3,573.80 157.3,573.76 158.2,573.73 159.2,573.69 160.2,573.65 161.1,573.62 162.1,573.59 163.1,573.57 164.0,573.55 165.0,573.55 166.0,573.55 167.0,573.54 168.0,573.52 169.0,573.51 170.0,573.49 171.0,573.46 172.0,573.44 173.0,573.43 174.0,573.41 175.0,573.40 176.0,573.40 177.0,573.23 178.0,572.88 179.0,572.70 180.0,572.46 181.0,571.99 182.0,571.75 183.0,571.75 184.0,571.75 185.0,571.75 186.0,571.80 187.0,571.90 188.0,571.95 189.0,571.94 190.0,571.93 191.0,571.90 192.0,571.88 193.0,571.86 194.0,571.85 195.0,571.84 196.0,571.79 197.0,571.73 198.0,571.67 199.0,571.61 200.0,571.56 201.0,571.55 202.0,571.45 203.0,571.23 204.0,571.00 205.0,570.90 206.0,570.85 207.0,570.73 208.0,570.57 209.0,570.45 210.0,570.40 211.0,570.39 212.0,570.37 213.0,570.34 214.0,570.30 215.0,570.25 216.0,570.20 217.0,570.15 218.0,570.10 219.0,570.06 220.0,570.03 221.0,570.01 222.0,570.00 223.0,570.00 224.0,570.00 225.0,569.99 226.0,569.99 227.0,569.99 228.0,569.98 229.0,569.98 230.0,569.97 231.0,569.96 232.0,569.96 233.0,569.96 234.0,569.95 235.0,569.95 236.0,569.95 237.0,569.95 238.0,569.97 239.0,569.99 240.0,570.02 241.0,570.05 242.0,570.09 243.0,570.12 244.0,570.16 245.0,570.20 246.0,570.23 247.0,570.26 248.0,570.28 249.0,570.30 250.0,570.30 251.0,570.30 252.0,570.31 253.0,570.33 254.0,570.35 255.0,570.38 256.0,570.41 257.0,570.44 258.0,570.48 259.0,570.51 260.0,570.54 261.0,570.57 262.0,570.60 263.0,570.62 264.0,570.64 265.0,570.65 266.0,570.65 267.0,570.65 268.0,570.64 269.0,570.63 270.0,570.62 271.0,570.61 272.0,570.59 273.0,570.58 274.0,570.56 275.0,570.54 276.0,570.53 277.0,570.52 278.0,570.51 279.0,570.50 280.0,570.50 281.0,570.49 282.0,570.46 283.0,570.42 284.0,570.36 285.0,570.30 286.0,570.24 287.0,570.18 288.0,570.14 289.0,570.11 290.0,570.10 291.0,570.11 292.0,570.16 293.0,570.22 294.0,570.28 295.0,570.34 296.0,570.39 297.0,570.40 298.0,570.52 299.0,570.85 300.0,571.25 301.0,571.58 302.0,571.70 303.0,571.71 304.0,571.74 305.0,571.78 306.0,571.84 307.0,571.90 308.0,571.96 309.0,572.02 310.0,572.06 311.0,572.09 312.0,572.10 313.0,572.10 314.0,572.10 315.0,572.10 316.0,572.10 317.0,572.10 318.0,572.10 319.0,572.10 320.0,572.10 321.0,571.88 322.0,571.42 323.0,571.20 324.0,571.19 325.0,571.15 326.0,571.10 327.0,571.06 328.0,571.05 329.0,571.12 330.0,571.31 331.0,571.54 332.0,571.73 333.0,571.80 334.0,571.81 335.0,571.84 336.0,571.88 337.0,571.92 338.0,571.96 339.0,571.99 340.0,572.00 341.0,572.00 342.0,572.00 343.0,572.00 344.0,572.00 345.0,572.00 346.0,572.00 347.0,572.00 348.0,572.00 349.0,571.84 350.0,571.51 351.0,571.35 352.0,571.34 353.0,571.32 354.0,571.30 355.0,571.27 356.0,571.26 357.0,571.25 358.0,571.29 359.0,571.39 360.0,571.51 361.0,571.61 362.0,571.65 363.0,571.65 364.0,571.64 365.0,571.63 366.0,571.62 367.0,571.62 368.0,571.61 369.0,571.60 370.0,571.60 370.9,571.63 371.8,571.70 372.8,571.80 373.7,571.90 374.6,571.97 375.5,572.00 376.5,572.65 377.5,573.30 377.5,575.30 376.5,575.95 375.5,576.60 374.6,576.63 373.7,576.70 372.8,576.80 371.8,576.90 370.9,576.97 370.0,577.00 369.0,577.01 368.0,577.05 367.0,577.11 366.0,577.17 365.0,577.24 364.0,577.30 363.0,577.34 362.0,577.35 361.0,577.45 360.0,577.70 359.0,578.00 358.0,578.25 357.0,578.35 356.0,578.34 355.0,578.32 354.0,578.30 353.0,578.27 352.0,578.26 351.0,578.25 350.0,577.94 349.0,577.31 348.0,577.00 347.0,577.00 346.0,577.00 345.0,577.00 344.0,577.00 343.0,577.00 342.0,577.00 341.0,577.00 340.0,577.00 339.0,577.03 338.0,577.11 337.0,577.23 336.0,577.37 335.0,577.49 334.0,577.57 333.0,577.60 332.0,577.69 331.0,577.93 330.0,578.22 329.0,578.46 328.0,578.55 327.0,578.54 326.0,578.50 325.0,578.45 324.0,578.41 323.0,578.40 322.0,578.08 321.0,577.42 320.0,577.10 319.0,577.09 318.0,577.07 317.0,577.04 316.0,577.00 315.0,576.96 314.0,576.93 313.0,576.91 312.0,576.90 311.0,576.90 310.0,576.90 309.0,576.90 308.0,576.90 307.0,576.90 306.0,576.90 305.0,576.90 304.0,576.90 303.0,576.90 302.0,576.90 301.0,576.95 300.0,577.07 299.0,577.23 298.0,577.35 297.0,577.40 296.0,577.40 295.0,577.42 294.0,577.44 293.0,577.46 292.0,577.48 291.0,577.50 290.0,577.50 289.0,577.50 288.0,577.50 287.0,577.50 286.0,577.50 285.0,577.50 284.0,577.50 283.0,577.50 282.0,577.50 281.0,577.50 280.0,577.50 279.0,577.50 278.0,577.51 277.0,577.53 276.0,577.55 275.0,577.57 274.0,577.60 273.0,577.62 272.0,577.65 271.0,577.68 270.0,577.70 269.0,577.72 268.0,577.74 267.0,577.75 266.0,577.75 265.0,577.75 264.0,577.76 263.0,577.78 262.0,577.80 261.0,577.83 260.0,577.86 259.0,577.89 258.0,577.93 257.0,577.96 256.0,577.99 255.0,578.02 254.0,578.05 253.0,578.07 252.0,578.09 251.0,578.10 250.0,578.10 249.0,578.10 248.0,578.12 247.0,578.14 246.0,578.17 245.0,578.20 244.0,578.24 243.0,578.28 242.0,578.31 241.0,578.35 240.0,578.38 239.0,578.41 238.0,578.43 237.0,578.45 236.0,578.45 235.0,578.45 234.0,578.45 233.0,578.44 232.0,578.44 231.0,578.44 230.0,578.43 229.0,578.43 228.0,578.42 227.0,578.41 226.0,578.41 225.0,578.41 224.0,578.40 223.0,578.40 222.0,578.40 221.0,578.39 220.0,578.37 219.0,578.34 218.0,578.30 217.0,578.25 216.0,578.20 215.0,578.15 214.0,578.10 213.0,578.06 212.0,578.03 211.0,578.01 210.0,578.00 209.0,577.95 208.0,577.83 207.0,577.67 206.0,577.55 205.0,577.50 204.0,577.40 203.0,577.18 202.0,576.95 201.0,576.85 200.0,576.85 199.0,576.83 198.0,576.81 197.0,576.79 196.0,576.77 195.0,576.75 194.0,576.75 193.0,576.77 192.0,576.83 191.0,576.90 190.0,576.98 189.0,577.03 188.0,577.05 187.0,577.25 186.0,577.65 185.0,577.85 184.0,577.90 183.0,578.00 182.0,578.05 181.0,577.96 180.0,577.79 179.0,577.70 178.0,577.73 177.0,577.77 176.0,577.80 175.0,577.81 174.0,577.82 173.0,577.84 172.0,577.87 171.0,577.91 170.0,577.94 169.0,577.98 168.0,578.01 167.0,578.03 166.0,578.04 165.0,578.05 164.0,578.05 163.1,578.05 162.1,578.06 161.1,578.06 160.2,578.06 159.2,578.07 158.2,578.07 157.3,578.08 156.3,578.09 155.4,578.09 154.4,578.09 153.4,578.10 152.5,578.10 151.5,578.10 150.4,577.90 149.3,577.70 148.2,577.92 147.1,578.38 146.0,578.60 145.0,578.61 144.0,578.62 143.0,578.64 142.0,578.67 141.0,578.71 140.0,578.74 139.0,578.78 138.0,578.81 137.0,578.83 136.0,578.84 135.0,578.85 134.0,578.85 133.1,578.84 132.1,578.83 131.2,578.81 130.2,578.79 129.2,578.78 128.3,578.76 127.3,578.74 126.4,578.72 125.4,578.71 124.5,578.70 123.5,578.70 122.2,578.08 121.0,577.45"/>
<line x1="100" y1="587.4" x2="378" y2="587.4" stroke="#333" stroke-width="0.9"/>
<polygon filter="url(#b1)" fill="#3c3c3c" points="121.5,606.00 122.8,605.60 124.0,605.20 125.0,605.20 126.0,605.18 127.0,605.17 128.0,605.14 129.0,605.11 130.0,605.09 131.0,605.06 132.0,605.03 133.0,605.02 134.0,605.00 135.0,605.00 136.0,605.00 137.0,604.99 138.0,604.97 139.0,604.95 140.0,604.93 141.0,604.90 142.0,604.88 143.0,604.86 144.0,604.85 145.0,604.85 145.9,604.86 146.8,604.90 147.6,604.94 148.5,604.95 149.5,604.60 150.5,604.25 151.8,603.80 153.0,603.35 154.0,603.35 155.0,603.33 156.0,603.31 157.0,603.29 158.0,603.26 159.0,603.23 160.0,603.19 161.0,603.16 162.0,603.14 163.0,603.12 164.0,603.10 165.0,603.10 166.0,603.09 167.0,603.07 168.0,603.04 169.0,603.00 170.0,602.95 171.0,602.90 172.0,602.86 173.0,602.83 174.0,602.81 175.0,602.80 175.9,602.78 176.8,602.73 177.6,602.67 178.5,602.65 179.8,602.00 181.0,601.35 182.0,601.31 183.0,601.20 184.0,601.09 185.0,601.05 186.0,601.04 187.0,601.03 188.0,601.01 189.0,601.00 190.0,600.99 191.0,600.98 192.0,600.95 193.0,600.91 194.0,600.87 195.0,600.83 196.0,600.79 197.0,600.75 198.0,600.72 199.0,600.71 200.0,600.70 201.0,600.62 202.0,600.42 203.0,600.18 204.0,599.98 205.0,599.90 206.0,599.88 207.0,599.81 208.0,599.71 209.0,599.59 210.0,599.49 211.0,599.42 212.0,599.40 213.0,599.40 214.0,599.40 215.0,599.39 216.0,599.39 217.0,599.38 218.0,599.38 219.0,599.37 220.0,599.37 221.0,599.36 222.0,599.36 223.0,599.35 224.0,599.35 225.0,599.35 226.0,599.35 227.0,599.36 228.0,599.36 229.0,599.37 230.0,599.39 231.0,599.40 232.0,599.42 233.0,599.43 234.0,599.45 235.0,599.46 236.0,599.48 237.0,599.49 238.0,599.49 239.0,599.50 240.0,599.50 241.0,599.50 242.0,599.52 243.0,599.54 244.0,599.57 245.0,599.60 246.0,599.64 247.0,599.68 248.0,599.72 249.0,599.76 250.0,599.80 251.0,599.83 252.0,599.86 253.0,599.88 254.0,599.90 255.0,599.90 256.0,599.90 257.0,599.91 258.0,599.92 259.0,599.93 260.0,599.95 261.0,599.97 262.0,599.99 263.0,600.01 264.0,600.03 265.0,600.05 266.0,600.07 267.0,600.08 268.0,600.09 269.0,600.10 270.0,600.10 271.0,600.10 272.0,600.08 273.0,600.06 274.0,600.03 275.0,600.00 276.0,599.96 277.0,599.92 278.0,599.88 279.0,599.84 280.0,599.80 281.0,599.77 282.0,599.74 283.0,599.72 284.0,599.70 285.0,599.70 286.0,599.70 287.0,599.71 288.0,599.72 289.0,599.73 290.0,599.74 291.0,599.76 292.0,599.77 293.0,599.78 294.0,599.79 295.0,599.80 296.0,599.80 297.0,599.93 298.0,600.25 299.0,600.57 300.0,600.70 301.0,600.71 302.0,600.72 303.0,600.75 304.0,600.79 305.0,600.83 306.0,600.88 307.0,600.92 308.0,600.96 309.0,601.00 310.0,601.03 311.0,601.04 312.0,601.05 313.0,601.05 314.0,601.05 315.0,601.05 316.0,601.05 317.0,601.05 318.0,601.05 319.0,601.05 320.0,601.05 321.0,601.05 322.0,601.05 323.0,600.83 324.0,600.38 325.0,600.15 326.0,600.13 327.0,600.08 328.0,600.02 329.0,600.00 330.1,600.15 331.2,600.50 332.4,600.85 333.5,601.00 334.6,601.04 335.7,601.14 336.8,601.27 337.8,601.41 338.9,601.51 340.0,601.55 341.0,601.55 342.0,601.56 343.0,601.57 344.0,601.58 345.0,601.60 346.0,601.62 347.0,601.63 348.0,601.64 349.0,601.65 350.0,601.65 351.0,601.24 352.0,600.41 353.0,600.00 354.0,599.98 355.0,599.91 356.0,599.84 357.0,599.77 358.0,599.75 359.1,599.79 360.2,599.90 361.4,600.01 362.5,600.05 363.4,600.03 364.4,599.99 365.3,599.93 366.2,599.85 367.2,599.77 368.1,599.71 369.1,599.67 370.0,599.65 370.9,599.63 371.8,599.56 372.8,599.48 373.7,599.39 374.6,599.32 375.5,599.30 376.5,599.65 377.5,600.00 377.5,601.20 376.5,601.65 375.5,602.10 374.6,602.14 373.7,602.26 372.8,602.43 371.8,602.59 370.9,602.71 370.0,602.75 369.1,602.77 368.1,602.84 367.2,602.94 366.2,603.05 365.3,603.16 364.4,603.26 363.4,603.33 362.5,603.35 361.4,603.51 360.2,603.90 359.1,604.29 358.0,604.45 357.0,604.45 356.0,604.43 355.0,604.42 354.0,604.40 353.0,604.40 352.0,604.24 351.0,603.91 350.0,603.75 349.0,603.75 348.0,603.74 347.0,603.73 346.0,603.72 345.0,603.70 344.0,603.68 343.0,603.67 342.0,603.66 341.0,603.65 340.0,603.65 338.9,603.65 337.8,603.64 336.8,603.62 335.7,603.61 334.6,603.60 333.5,603.60 332.4,603.69 331.2,603.90 330.1,604.11 329.0,604.20 328.0,604.18 327.0,604.12 326.0,604.07 325.0,604.05 324.0,603.88 323.0,603.53 322.0,603.35 321.0,603.35 320.0,603.35 319.0,603.35 318.0,603.35 317.0,603.35 316.0,603.35 315.0,603.35 314.0,603.35 313.0,603.35 312.0,603.35 311.0,603.35 310.0,603.35 309.0,603.34 308.0,603.34 307.0,603.33 306.0,603.33 305.0,603.32 304.0,603.31 303.0,603.31 302.0,603.30 301.0,603.30 300.0,603.30 299.0,603.37 298.0,603.55 297.0,603.73 296.0,603.80 295.0,603.80 294.0,603.81 293.0,603.82 292.0,603.83 291.0,603.84 290.0,603.86 289.0,603.87 288.0,603.88 287.0,603.89 286.0,603.90 285.0,603.90 284.0,603.90 283.0,603.92 282.0,603.94 281.0,603.97 280.0,604.00 279.0,604.04 278.0,604.08 277.0,604.12 276.0,604.16 275.0,604.20 274.0,604.23 273.0,604.26 272.0,604.28 271.0,604.30 270.0,604.30 269.0,604.30 268.0,604.31 267.0,604.32 266.0,604.33 265.0,604.35 264.0,604.37 263.0,604.39 262.0,604.41 261.0,604.43 260.0,604.45 259.0,604.47 258.0,604.48 257.0,604.49 256.0,604.50 255.0,604.50 254.0,604.50 253.0,604.50 252.0,604.50 251.0,604.50 250.0,604.50 249.0,604.50 248.0,604.50 247.0,604.50 246.0,604.50 245.0,604.50 244.0,604.50 243.0,604.50 242.0,604.50 241.0,604.50 240.0,604.50 239.0,604.50 238.0,604.49 237.0,604.48 236.0,604.46 235.0,604.44 234.0,604.41 233.0,604.39 232.0,604.36 231.0,604.34 230.0,604.31 229.0,604.29 228.0,604.27 227.0,604.26 226.0,604.25 225.0,604.25 224.0,604.25 223.0,604.24 222.0,604.22 221.0,604.20 220.0,604.17 219.0,604.14 218.0,604.11 217.0,604.08 216.0,604.05 215.0,604.03 214.0,604.01 213.0,604.00 212.0,604.00 211.0,604.00 210.0,603.98 209.0,603.96 208.0,603.94 207.0,603.92 206.0,603.90 205.0,603.90 204.0,603.90 203.0,603.90 202.0,603.90 201.0,603.90 200.0,603.90 199.0,603.91 198.0,603.92 197.0,603.95 196.0,603.99 195.0,604.03 194.0,604.07 193.0,604.11 192.0,604.15 191.0,604.18 190.0,604.19 189.0,604.20 188.0,604.31 187.0,604.58 186.0,604.84 185.0,604.95 184.0,604.94 183.0,604.90 182.0,604.86 181.0,604.85 179.8,604.70 178.5,604.55 177.6,604.70 176.8,605.08 175.9,605.45 175.0,605.60 174.0,605.61 173.0,605.65 172.0,605.70 171.0,605.77 170.0,605.85 169.0,605.93 168.0,606.00 167.0,606.05 166.0,606.09 165.0,606.10 164.0,606.10 163.0,606.11 162.0,606.12 161.0,606.14 160.0,606.16 159.0,606.18 158.0,606.19 157.0,606.21 156.0,606.23 155.0,606.24 154.0,606.25 153.0,606.25 151.8,606.00 150.5,605.75 149.5,606.00 148.5,606.25 147.6,606.44 146.8,606.90 145.9,607.36 145.0,607.55 144.0,607.56 143.0,607.59 142.0,607.64 141.0,607.71 140.0,607.77 139.0,607.84 138.0,607.91 137.0,607.96 136.0,607.99 135.0,608.00 134.0,608.00 133.0,608.00 132.0,608.00 131.0,608.00 130.0,608.00 129.0,608.00 128.0,608.00 127.0,608.00 126.0,608.00 125.0,608.00 124.0,608.00 122.8,607.60 121.5,607.20"/>
</svg></body></html>
